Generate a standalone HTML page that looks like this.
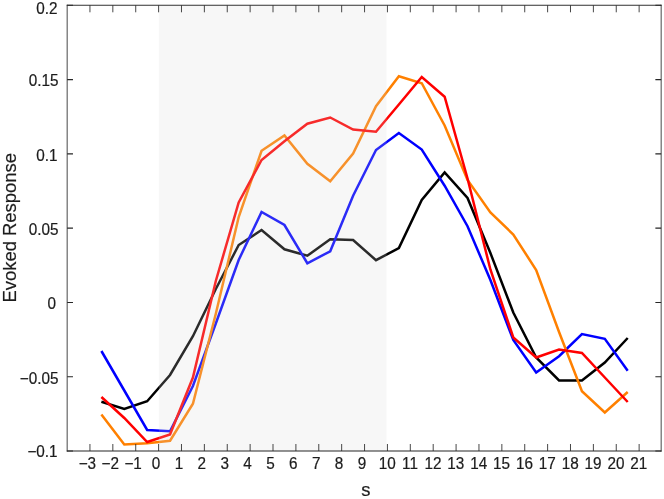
<!DOCTYPE html><html><head><meta charset="utf-8"><title>Evoked Response</title>
<style>html,body{margin:0;padding:0;background:#fff}svg{display:block}text{font-family:"Liberation Sans",Arial,sans-serif;fill:#1c1c1c;stroke:#1c1c1c;stroke-width:0.2px}</style></head><body>
<svg width="664" height="499" viewBox="0 0 664 499">
<rect width="664" height="499" fill="#fff"/>
<polyline points="101.39,401.75 124.28,409.00 147.16,401.25 170.04,375.00 192.92,336.25 215.81,289.00 238.69,245.00 261.57,230.00 284.46,249.25 307.34,255.75 330.22,239.25 353.11,240.00 375.99,260.20 398.87,248.00 421.75,200.00 444.64,172.50 467.52,198.00 490.40,253.00 513.29,312.50 536.17,357.50 559.05,380.50 581.94,380.50 604.82,362.50 627.70,338.00" fill="none" stroke="#000000" stroke-width="2.5" stroke-linejoin="miter" stroke-linecap="butt"/>
<polyline points="101.39,351.00 124.28,390.50 147.16,430.00 170.04,431.25 192.92,386.00 215.81,323.50 238.69,260.00 261.57,212.00 284.46,225.00 307.34,263.25 330.22,251.25 353.11,195.80 375.99,150.00 398.87,133.00 421.75,149.50 444.64,185.75 467.52,226.25 490.40,280.00 513.29,340.00 536.17,372.50 559.05,356.25 581.94,334.00 604.82,338.75 627.70,370.75" fill="none" stroke="#0000ff" stroke-width="2.5" stroke-linejoin="miter" stroke-linecap="butt"/>
<polyline points="101.39,414.50 124.28,444.50 147.16,443.25 170.04,440.75 192.92,403.75 215.81,313.80 238.69,217.00 261.57,150.75 284.46,135.50 307.34,163.75 330.22,181.25 353.11,153.50 375.99,106.25 398.87,76.25 421.75,83.25 444.64,125.50 467.52,180.00 490.40,212.50 513.29,234.50 536.17,270.00 559.05,332.00 581.94,391.25 604.82,412.50 627.70,392.00" fill="none" stroke="#ff8000" stroke-width="2.5" stroke-linejoin="miter" stroke-linecap="butt"/>
<polyline points="101.39,397.00 124.28,418.00 147.16,442.00 170.04,434.50 192.92,377.50 215.81,281.00 238.69,202.50 261.57,160.00 284.46,141.25 307.34,123.75 330.22,117.50 353.11,129.50 375.99,131.75 398.87,104.50 421.75,77.00 444.64,96.75 467.52,178.50 490.40,269.50 513.29,337.50 536.17,357.50 559.05,349.50 581.94,353.00 604.82,377.50 627.70,402.00" fill="none" stroke="#ff0000" stroke-width="2.5" stroke-linejoin="miter" stroke-linecap="butt"/>
<rect x="158.9" y="5.3" width="227.70" height="445.70" fill="#d9d9d9" fill-opacity="0.2"/>
<path d="M67.17 4.75V451.55M661.17 4.75V451.55" stroke="#262626" stroke-width="0.85" fill="none"/>
<path d="M66.745 5.25H661.5949999999999" stroke="#262626" stroke-width="0.95" fill="none"/>
<path d="M66.745 451.0H661.5949999999999" stroke="#262626" stroke-width="1.15" fill="none"/>
<path d="M89.95 451.0v-7.0M89.95 5.3v7.0M112.83 451.0v-7.0M112.83 5.3v7.0M135.72 451.0v-7.0M135.72 5.3v7.0M158.60 451.0v-7.0M158.60 5.3v7.0M181.48 451.0v-7.0M181.48 5.3v7.0M204.37 451.0v-7.0M204.37 5.3v7.0M227.25 451.0v-7.0M227.25 5.3v7.0M250.13 451.0v-7.0M250.13 5.3v7.0M273.01 451.0v-7.0M273.01 5.3v7.0M295.90 451.0v-7.0M295.90 5.3v7.0M318.78 451.0v-7.0M318.78 5.3v7.0M341.66 451.0v-7.0M341.66 5.3v7.0M364.55 451.0v-7.0M364.55 5.3v7.0M387.43 451.0v-7.0M387.43 5.3v7.0M410.31 451.0v-7.0M410.31 5.3v7.0M433.20 451.0v-7.0M433.20 5.3v7.0M456.08 451.0v-7.0M456.08 5.3v7.0M478.96 451.0v-7.0M478.96 5.3v7.0M501.85 451.0v-7.0M501.85 5.3v7.0M524.73 451.0v-7.0M524.73 5.3v7.0M547.61 451.0v-7.0M547.61 5.3v7.0M570.49 451.0v-7.0M570.49 5.3v7.0M593.38 451.0v-7.0M593.38 5.3v7.0M616.26 451.0v-7.0M616.26 5.3v7.0M639.14 451.0v-7.0M639.14 5.3v7.0" stroke="#262626" stroke-width="0.85" fill="none"/>
<path d="M67.17 451.00h5.8M661.17 451.00h-5.8M67.17 376.72h5.8M661.17 376.72h-5.8M67.17 302.43h5.8M661.17 302.43h-5.8M67.17 228.15h5.8M661.17 228.15h-5.8M67.17 153.87h5.8M661.17 153.87h-5.8M67.17 79.58h5.8M661.17 79.58h-5.8M67.17 5.30h5.8M661.17 5.30h-5.8" stroke="#262626" stroke-width="1.1" fill="none"/>
<text transform="translate(87.35,469.3) scale(1,1.03)" font-size="15.3" text-anchor="middle">−3</text>
<text transform="translate(110.23,469.3) scale(1,1.03)" font-size="15.3" text-anchor="middle">−2</text>
<text transform="translate(133.12,469.3) scale(1,1.03)" font-size="15.3" text-anchor="middle">−1</text>
<text transform="translate(156.00,469.3) scale(1,1.03)" font-size="15.3" text-anchor="middle">0</text>
<text transform="translate(178.88,469.3) scale(1,1.03)" font-size="15.3" text-anchor="middle">1</text>
<text transform="translate(201.77,469.3) scale(1,1.03)" font-size="15.3" text-anchor="middle">2</text>
<text transform="translate(224.65,469.3) scale(1,1.03)" font-size="15.3" text-anchor="middle">3</text>
<text transform="translate(247.53,469.3) scale(1,1.03)" font-size="15.3" text-anchor="middle">4</text>
<text transform="translate(270.41,469.3) scale(1,1.03)" font-size="15.3" text-anchor="middle">5</text>
<text transform="translate(293.30,469.3) scale(1,1.03)" font-size="15.3" text-anchor="middle">6</text>
<text transform="translate(316.18,469.3) scale(1,1.03)" font-size="15.3" text-anchor="middle">7</text>
<text transform="translate(339.06,469.3) scale(1,1.03)" font-size="15.3" text-anchor="middle">8</text>
<text transform="translate(361.95,469.3) scale(1,1.03)" font-size="15.3" text-anchor="middle">9</text>
<text transform="translate(387.13,469.3) scale(1,1.03)" font-size="15.3" text-anchor="middle">10</text>
<text transform="translate(410.01,469.3) scale(1,1.03)" font-size="15.3" text-anchor="middle">11</text>
<text transform="translate(432.90,469.3) scale(1,1.03)" font-size="15.3" text-anchor="middle">12</text>
<text transform="translate(455.78,469.3) scale(1,1.03)" font-size="15.3" text-anchor="middle">13</text>
<text transform="translate(478.66,469.3) scale(1,1.03)" font-size="15.3" text-anchor="middle">14</text>
<text transform="translate(501.55,469.3) scale(1,1.03)" font-size="15.3" text-anchor="middle">15</text>
<text transform="translate(524.43,469.3) scale(1,1.03)" font-size="15.3" text-anchor="middle">16</text>
<text transform="translate(547.31,469.3) scale(1,1.03)" font-size="15.3" text-anchor="middle">17</text>
<text transform="translate(570.19,469.3) scale(1,1.03)" font-size="15.3" text-anchor="middle">18</text>
<text transform="translate(593.08,469.3) scale(1,1.03)" font-size="15.3" text-anchor="middle">19</text>
<text transform="translate(615.96,469.3) scale(1,1.03)" font-size="15.3" text-anchor="middle">20</text>
<text transform="translate(638.84,469.3) scale(1,1.03)" font-size="15.3" text-anchor="middle">21</text>
<text transform="translate(57.6,456.90) scale(1,1.03)" font-size="15.3" text-anchor="end">−0.1</text>
<text transform="translate(58.5,383.62) scale(1,1.03)" font-size="15.3" text-anchor="end">−0.05</text>
<text transform="translate(55.9,309.33) scale(1,1.03)" font-size="15.3" text-anchor="end">0</text>
<text transform="translate(58.5,235.05) scale(1,1.03)" font-size="15.3" text-anchor="end">0.05</text>
<text transform="translate(57.6,160.77) scale(1,1.03)" font-size="15.3" text-anchor="end">0.1</text>
<text transform="translate(58.5,86.48) scale(1,1.03)" font-size="15.3" text-anchor="end">0.15</text>
<text transform="translate(57.6,13.70) scale(1,1.03)" font-size="15.3" text-anchor="end">0.2</text>
<text x="365.8" y="495.7" font-size="18.4" text-anchor="middle">s</text>
<text transform="translate(15.8,227.8) rotate(-90) scale(0.96,1)" font-size="19.2" text-anchor="middle">Evoked Response</text>
</svg></body></html>
